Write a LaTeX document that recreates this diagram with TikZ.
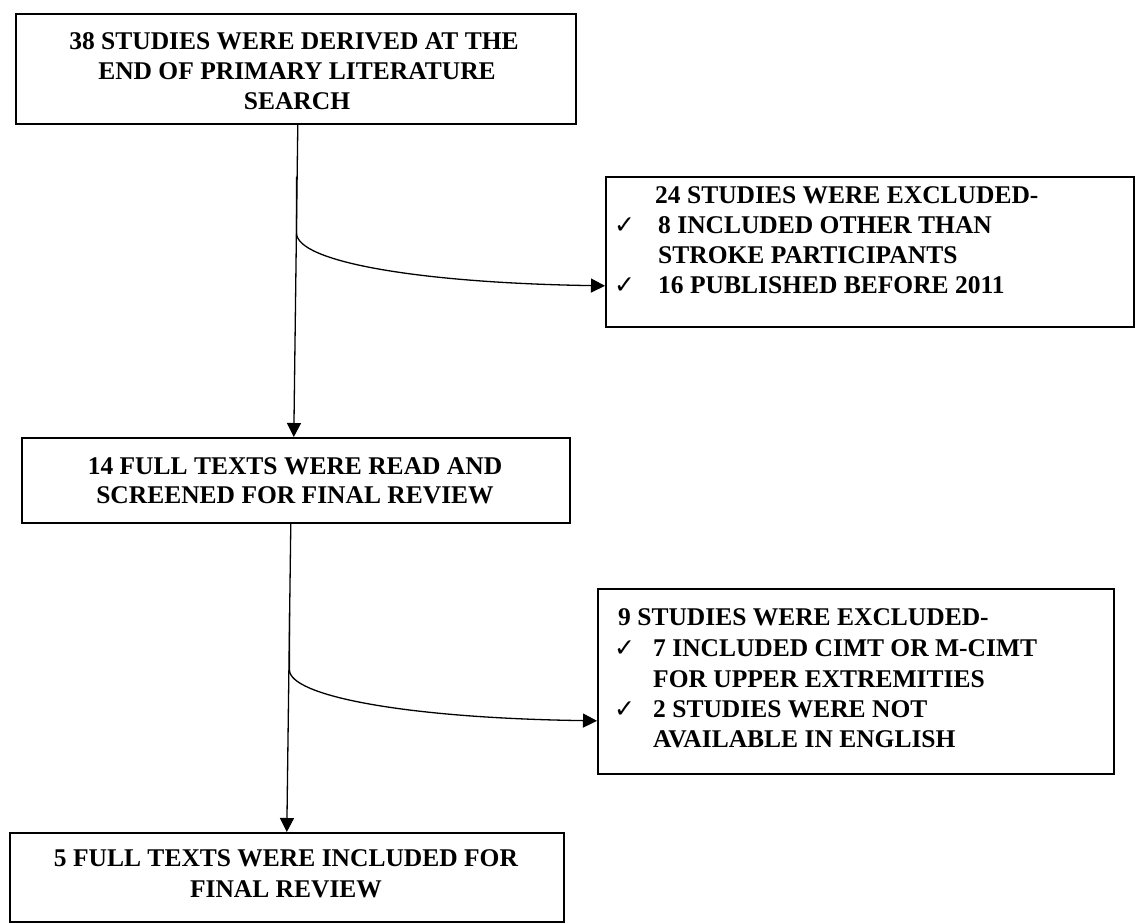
\documentclass[tikz,border=0pt]{standalone}
\usepackage{fontspec}
\setmainfont{Liberation Serif}
\newfontfamily\symfont{DejaVu Sans}
\usetikzlibrary{arrows.meta}
\begin{document}
\begin{tikzpicture}[x=1pt,y=-1pt,
  box/.style={draw=black,line width=1.6pt,inner sep=0pt,anchor=north west},
  txt/.style={font=\bfseries\fontsize{25.5}{30}\selectfont,inner sep=0pt,anchor=base},
  txtl/.style={txt,anchor=base west},
  chk/.style={font=\symfont\fontsize{25}{25}\selectfont,inner sep=0pt,anchor=base west},
  conn/.style={line width=1.3pt,-{Triangle[length=14pt,width=14pt]}}]
\useasboundingbox (0,0) rectangle (1135,923);
% boxes
\node[box,minimum width=560pt,minimum height=110pt] (box1) at (15,13) {};
\node[box,minimum width=528pt,minimum height=150pt] (box2) at (605,176) {};
\node[box,minimum width=548pt,minimum height=85pt] (box3) at (21,437) {};
\node[box,minimum width=516pt,minimum height=185pt] (box4) at (597,588) {};
\node[box,minimum width=554pt,minimum height=89pt] (box5) at (9,832) {};
% texts box 1
\node[txt] (t1a) at (294,49.5) {38 STUDIES WERE DERIVED AT THE};
\node[txt] (t1b) at (297,79.5) {END OF PRIMARY LITERATURE};
\node[txt] (t1c) at (297,110) {SEARCH};
% box 2
\node[txtl] (t2a) at (655,203) {24 STUDIES WERE EXCLUDED-};
\node[chk] (c2a) at (614,233) {✓};
\node[txtl] (t2b) at (658,233) {8 INCLUDED OTHER THAN};
\node[txtl] (t2c) at (658,263) {STROKE PARTICIPANTS};
\node[chk] (c2b) at (614,293) {✓};
\node[txtl] (t2d) at (658,293) {16 PUBLISHED BEFORE 2011};
% box 3
\node[txt] (t3a) at (295,474) {14 FULL TEXTS WERE READ AND};
\node[txt] (t3b) at (295,503) {SCREENED FOR FINAL REVIEW};
% box 4
\node[txtl] (t4a) at (618,625) {9 STUDIES WERE EXCLUDED-};
\node[chk] (c4a) at (614,656) {✓};
\node[txtl] (t4b) at (653,656) {7 INCLUDED CIMT OR M-CIMT};
\node[txtl] (t4c) at (653,687) {FOR UPPER EXTREMITIES};
\node[chk] (c4b) at (614,717) {✓};
\node[txtl] (t4d) at (653,717) {2 STUDIES WERE NOT};
\node[txtl] (t4e) at (653,747) {AVAILABLE IN ENGLISH};
% box 5
\node[txt] (t5a) at (286,866) {5 FULL TEXTS WERE INCLUDED FOR};
\node[txt] (t5b) at (286,897) {FINAL REVIEW};
% connectors
\draw[conn] ([xshift=2pt]box1.south) -- ([xshift=-2pt]box3.north);
\coordinate (b1) at (296.5,177);
\draw[conn] (b1) -- (296.5,233) .. controls (296.5,262) and (420,283) .. ([yshift=-34pt]box2.west);
\draw[conn] ([xshift=-5pt]box3.south) -- (box5.north);
\coordinate (b2) at (289.5,613);
\draw[conn] (b2) -- (289.5,670) .. controls (289.5,695) and (400,718) .. ([yshift=-39.5pt]box4.west);
\end{tikzpicture}
\end{document}
